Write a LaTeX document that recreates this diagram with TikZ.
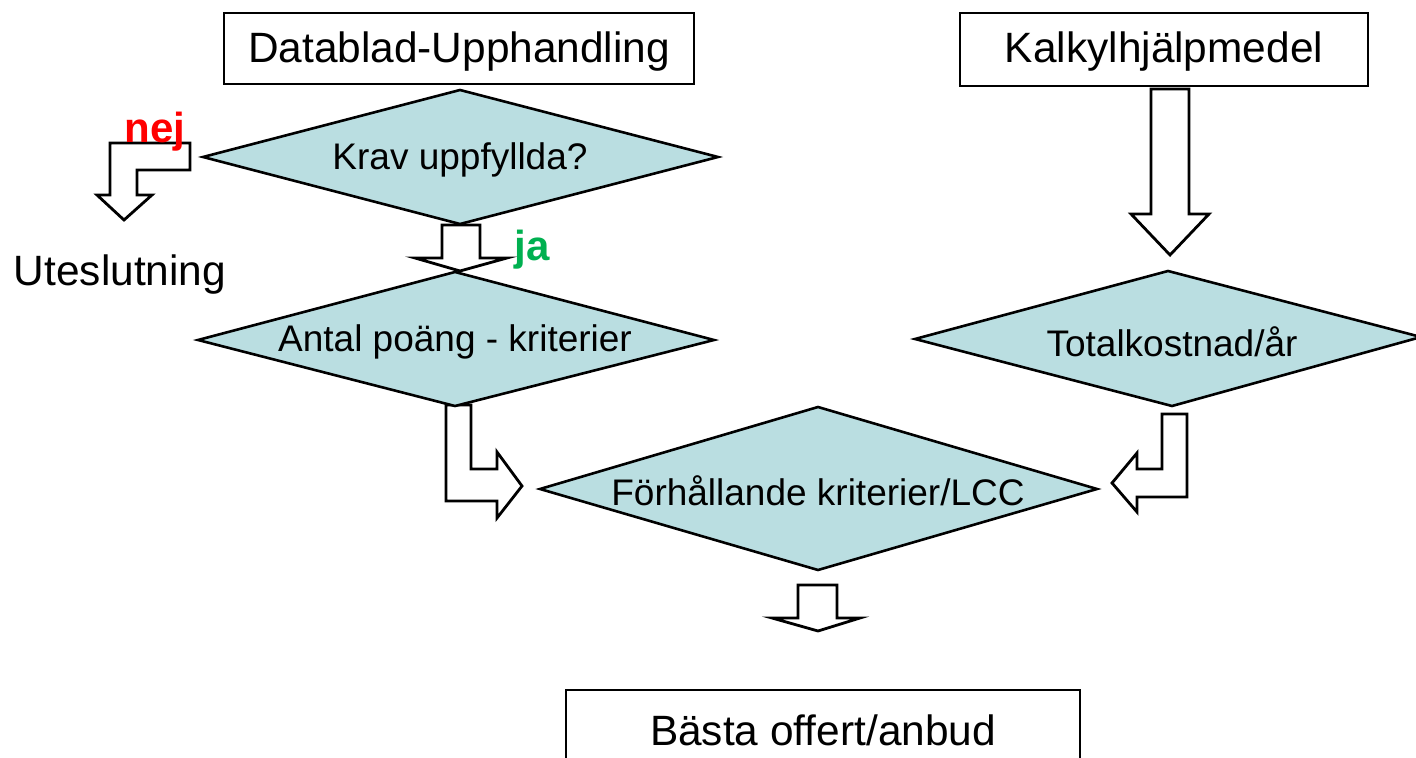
\documentclass[tikz,border=0pt]{standalone}
\usepackage{fontspec}
\setmainfont{Liberation Sans}
\definecolor{dfill}{RGB}{186,222,225}
\definecolor{nejred}{RGB}{255,0,0}
\definecolor{jagreen}{RGB}{0,176,80}
\tikzset{
  boxtext/.style={font=\fontsize{21.2}{24}\selectfont, inner sep=0pt},
  dtext/.style={font=\fontsize{18.5}{22}\selectfont, inner sep=0pt},
  rbox/.style={draw=black, line width=1.1pt, fill=white},
  dia/.style={draw=black, line width=1.3pt, fill=dfill, line join=miter},
  barrow/.style={draw=black, line width=1.4pt, fill=white, line join=miter},
  lbl/.style={font=\bfseries\fontsize{21}{24}\selectfont, inner sep=0pt}
}
\begin{document}
\begin{tikzpicture}[x=0.5pt,y=-0.5pt]
\useasboundingbox (0,0) rectangle (1416,758);
\clip (0,0) rectangle (1416,758);
% block arrows (drawn first, under diamonds)
\draw[barrow] (110,143) -- (190,143) -- (190,170) -- (137,170) -- (137,195) -- (152,195) -- (124,220) -- (97,195) -- (110,195) -- cycle;
\draw[barrow] (442,225) -- (480,225) -- (480,258) -- (507,258) -- (460,271) -- (415,258) -- (442,258) -- cycle;
\draw[barrow] (446,405) -- (471,405) -- (471,469) -- (497,469) -- (497,452) -- (522,486) -- (497,518) -- (497,501) -- (446,501) -- cycle;
\draw[barrow] (1162,414) -- (1187,414) -- (1187,497) -- (1137,497) -- (1137,512) -- (1112,483) -- (1137,453) -- (1137,469) -- (1162,469) -- cycle;
\draw[barrow] (1151,89) -- (1189,89) -- (1189,214) -- (1209,214) -- (1170,255) -- (1131,214) -- (1151,214) -- cycle;
\draw[barrow] (798,585) -- (837,585) -- (837,618) -- (860,618) -- (818,631) -- (772,618) -- (798,618) -- cycle;
% boxes
\draw[rbox] (224,13) rectangle (694,84);
\node[boxtext] (datablad) at (459,52) {Datablad-Upphandling};
\draw[rbox] (960,13) rectangle (1368,86);
\node[boxtext] (kalk) at (1164,52) {Kalkylhjälpmedel};
\draw[rbox] (566,690) rectangle (1080,790);
\node[boxtext] (basta) at (823,730) {Bästa offert/anbud};
% diamonds
\draw[dia] (203,157) -- (460,90) -- (718,157) -- (460,224) -- cycle;
\node[dtext] (krav) at (460,160) {Krav uppfyllda?};
\draw[dia] (198,340) -- (455,272) -- (714,340) -- (455,406) -- cycle;
\node[dtext] (antal) at (455,342) {Antal poäng - kriterier};
\draw[dia] (915,339) -- (1168,271) -- (1421,337) -- (1172,406) -- cycle;
\node[dtext] (total) at (1172,342) {Totalkostnad/år};
\draw[dia] (540,489) -- (818,407) -- (1097,489) -- (818,570) -- cycle;
\node[dtext] (forh) at (818,491) {Förhållande kriterier/LCC};
% labels
\node[boxtext] (utes) at (120,275) {Uteslutning};
\node[lbl, text=nejred] (nej) at (155,132) {nej};
\node[lbl, text=jagreen] (ja) at (532,250) {ja};
\end{tikzpicture}
\end{document}
